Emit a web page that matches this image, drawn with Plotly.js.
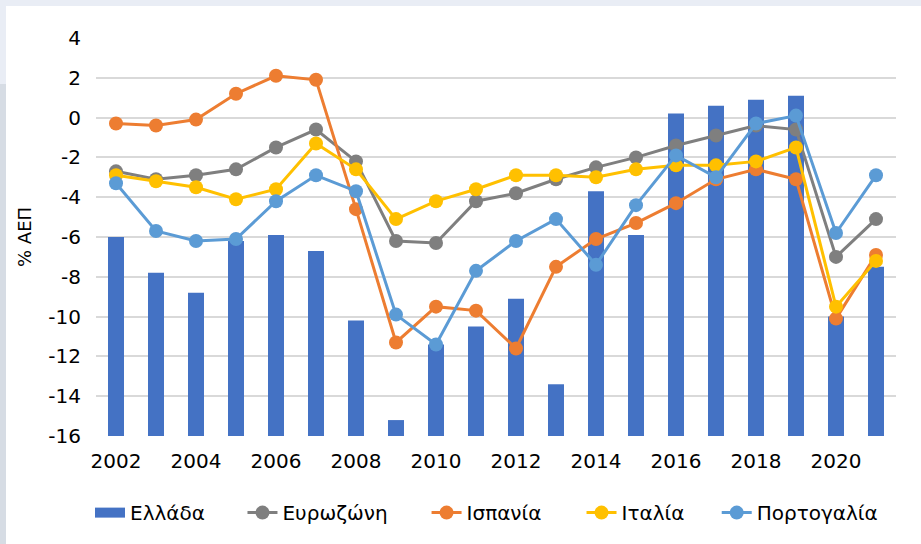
<!DOCTYPE html>
<html>
<head>
<meta charset="utf-8">
<script src="https://cdn.plot.ly/plotly-3.0.1.min.js"></script>
<style>
  html, body { margin: 0; padding: 0; width: 921px; height: 544px; overflow: hidden;
    background: linear-gradient(to bottom, #e9edf5 0px, #e9edf5 84px, #d6dce4 84px, #d6dce4 544px); }
  #chart { position: absolute; left: 6px; top: 6px; width: 915px; height: 538px; background: #ffffff; }
</style>
</head>
<body>
<div id="chart"></div>
<script>
const years = [2002,2003,2004,2005,2006,2007,2008,2009,2010,2011,2012,2013,2014,2015,2016,2017,2018,2019,2020,2021];
const greece   = [-6.0,-7.8,-8.8,-6.2,-5.9,-6.7,-10.2,-15.2,-11.4,-10.5,-9.1,-13.4,-3.7,-5.9,0.2,0.6,0.9,1.1,-10.0,-7.5];
const eurozone = [-2.7,-3.1,-2.9,-2.6,-1.5,-0.6,-2.2,-6.2,-6.3,-4.2,-3.8,-3.1,-2.5,-2.0,-1.4,-0.9,-0.4,-0.6,-7.0,-5.1];
const spain    = [-0.3,-0.4,-0.1,1.2,2.1,1.9,-4.6,-11.3,-9.5,-9.7,-11.6,-7.5,-6.1,-5.3,-4.3,-3.1,-2.6,-3.1,-10.1,-6.9];
const italy    = [-2.9,-3.2,-3.5,-4.1,-3.6,-1.3,-2.6,-5.1,-4.2,-3.6,-2.9,-2.9,-3.0,-2.6,-2.4,-2.4,-2.2,-1.5,-9.5,-7.2];
const portugal = [-3.3,-5.7,-6.2,-6.1,-4.2,-2.9,-3.7,-9.9,-11.4,-7.7,-6.2,-5.1,-7.4,-4.4,-1.9,-3.0,-0.3,0.1,-5.8,-2.9];
const names = ['Ελλάδα','Ευρωζώνη','Ισπανία','Ιταλία','Πορτογαλία'];
const yTickVals = [4,2,0,-2,-4,-6,-8,-10,-12,-14,-16];
const yTickText = ['4','2','0','-2','-4','-6','-8','-10','-12','-14','-16'];
const xTickVals = [2002,2004,2006,2008,2010,2012,2014,2016,2018,2020];
const yTitle = '% ΑΕΠ';

const BASE = -16;
const tickFont = {family: 'DejaVu Sans', size: 20, color: '#000000'};
const legendFont = {family: 'DejaVu Sans', size: 20, color: '#000000'};

function lineTrace(name, vals, color, legendId) {
  return {type: 'scatter', mode: 'lines+markers', name: name, x: years, y: vals, legend: legendId,
    line: {color: color, width: 3}, marker: {color: color, size: 14}};
}

const traces = [
  {type: 'bar', name: names[0], x: years, y: greece.map(v => v - BASE), base: BASE,
   legend: 'legend', legendgroup: 'gr', showlegend: false,
   width: 0.4, marker: {color: '#4472c4'}},
  // legend key for the bars (wide rectangle like the original)
  {type: 'scatter', mode: 'lines', name: names[0], x: [null], y: [null], legend: 'legend',
   legendgroup: 'gr', line: {color: '#4472c4', width: 10}},
  lineTrace(names[1], eurozone, '#7f7f7f', 'legend2'),
  lineTrace(names[2], spain, '#ed7d31', 'legend3'),
  lineTrace(names[3], italy, '#ffc000', 'legend4'),
  lineTrace(names[4], portugal, '#5b9bd5', 'legend5')
];

function leg(x) {
  return {orientation: 'h', x: x, xanchor: 'left', y: -0.1925, yanchor: 'middle',
    font: legendFont, bgcolor: 'rgba(0,0,0,0)', borderwidth: 0};
}

const layout = {
  width: 915, height: 538,
  margin: {l: 90, r: 25, t: 32, b: 106},
  paper_bgcolor: '#ffffff', plot_bgcolor: '#ffffff',
  showlegend: true,
  legend: leg(-0.0075),
  legend2: leg(0.1831),
  legend3: leg(0.4132),
  legend4: leg(0.6069),
  legend5: leg(0.7759),
  xaxis: {type: 'linear', range: [2001.5, 2021.5], tickvals: xTickVals, tickfont: tickFont,
    showgrid: false, zeroline: false, showline: false, ticks: '', ticklabelstandoff: 11, fixedrange: true},
  yaxis: {range: [-16, 4], tickvals: yTickVals, ticktext: yTickText, tickfont: tickFont,
    showgrid: true, gridcolor: '#d9d9d9', gridwidth: 2, zeroline: false, showline: false,
    ticks: '', ticklabelstandoff: 14, fixedrange: true,
    title: {text: yTitle, font: {family: 'DejaVu Sans', size: 18, color: '#000000'}, standoff: 12}},
  font: {family: 'DejaVu Sans'}
};

Plotly.newPlot('chart', traces, layout, {displayModeBar: false, staticPlot: true});
</script>
</body>
</html>
